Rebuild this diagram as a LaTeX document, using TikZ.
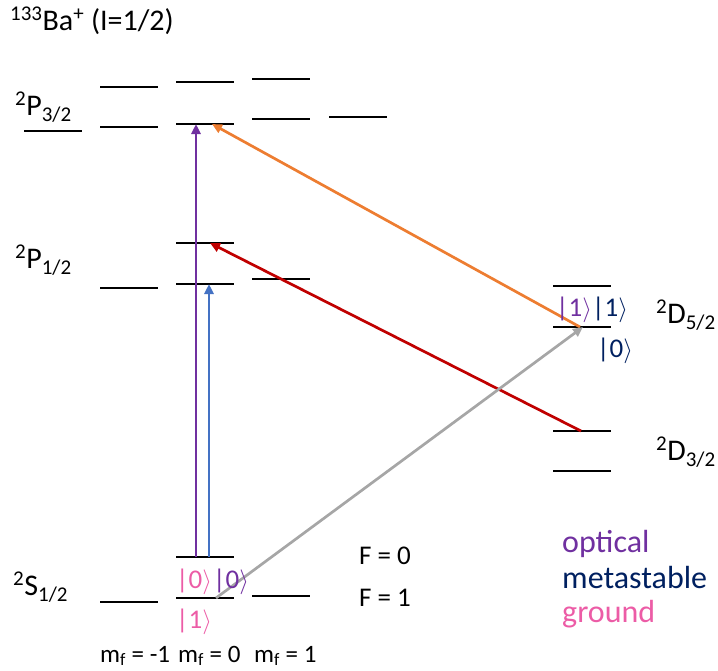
\documentclass[tikz,border=0pt]{standalone}
\usepackage{fontspec}
\setmainfont{Carlito}
\usepackage{tikz}
\usetikzlibrary{arrows.meta}
\definecolor{optpurple}{HTML}{7030A0}
\definecolor{metanavy}{HTML}{002060}
\definecolor{gndpink}{HTML}{EC5CA6}
\definecolor{laserblue}{HTML}{4472C4}
\definecolor{laserorange}{HTML}{ED7D31}
\definecolor{laserred}{HTML}{C00000}
\definecolor{lasergray}{HTML}{A6A6A6}
\newcommand{\ketx}[1]{|#1\ensuremath{\rangle}}

\begin{document}
\begin{tikzpicture}[x=1pt, y=-1pt,
  level/.style={line width=1.7pt, black},
  laser/.style={line width=2.7pt, -{Triangle[length=10pt,width=9pt]}},
  term/.style={anchor=base west, inner sep=0pt, font=\fontsize{30}{34}\selectfont},
  ketlbl/.style={anchor=base west, inner sep=0pt, font=\fontsize{27}{31}\selectfont},
  hyp/.style={anchor=base west, inner sep=0pt, font=\fontsize{27}{31}\selectfont},
  small/.style={anchor=base west, inner sep=0pt, font=\fontsize{25}{29}\selectfont},
  legend/.style={anchor=base west, inner sep=0pt, font=\fontsize{32}{36}\selectfont}]
\useasboundingbox (0,0) rectangle (718,670);

% Title
\node[term] (title) at (10,30) {\textsuperscript{133}Ba\textsuperscript{+} (I=1/2)};

% Sublevels: name / centre x / y
\foreach \n/\x/\y in {pa/53/131, pb/129/87, pc/129/127, pd/205/82, pe/205/124,
                      pf/281/79, pg/281/119, ph/358/117,
                      qa/129/288, qb/205/243, qc/205/284, qd/281/279,
                      da/582/286, db/582/327, dc/582/431, dd/582/471,
                      sa/129/602, sb/205/557, sc/205/598, sd/281/596}
  \draw[level] (\x-29,\y) -- coordinate (\n) (\x+29,\y);

% Term labels
\node[term] (P32) at (15,115) {\textsuperscript{2}P\textsubscript{3/2}};
\node[term] (P12) at (15,268) {\textsuperscript{2}P\textsubscript{1/2}};
\node[term] (D52) at (656,323) {\textsuperscript{2}D\textsubscript{5/2}};
\node[term] (D32) at (656,460) {\textsuperscript{2}D\textsubscript{3/2}};
\node[term] (S12) at (13,595) {\textsuperscript{2}S\textsubscript{1/2}};

% Lasers
\draw[laser, optpurple] ([xshift=-9pt]sb) -- ([xshift=-9pt]pe);
\draw[laser, laserblue] ([xshift=4pt]sb) -- ([xshift=4pt]qc);
\draw[laser, laserorange] ([xshift=-2pt]db) -- ([xshift=7pt]pe);
\draw[laser, laserred] ([xshift=-1pt]dc) -- ([xshift=5pt]qb);
\draw[laser, lasergray] ([xshift=11pt]sc) -- ([xshift=1pt]db);

% Qubit states
\node[ketlbl, text=optpurple] (dopt) at (556,316) {\ketx{1}};
\node[ketlbl, text=metanavy] (dmeta1) at (592,316) {\ketx{1}};
\node[ketlbl, text=metanavy] (dmeta0) at (597,357) {\ketx{0}};
\node[ketlbl, text=gndpink] (sgnd0) at (176,588) {\ketx{0}};
\node[ketlbl, text=optpurple] (sopt) at (213,588) {\ketx{0}};
\node[ketlbl, text=gndpink] (sgnd1) at (176,628) {\ketx{1}};

% Hyperfine labels
\node[hyp] (F0) at (359,564) {F = 0};
\node[hyp] (F1) at (359,606) {F = 1};

% Zeeman labels
\node[small] (mA) at (100,662) {m\textsubscript{f} = -1};
\node[small] (mB) at (178,662) {m\textsubscript{f} = 0};
\node[small] (mC) at (254,662) {m\textsubscript{f} = 1};

% Legend
\node[legend, text=optpurple] (lopt) at (562,552) {optical};
\node[legend, text=metanavy] (lmeta) at (562,588) {metastable};
\node[legend, text=gndpink] (lgnd) at (562,622) {ground};
\end{tikzpicture}
\end{document}
